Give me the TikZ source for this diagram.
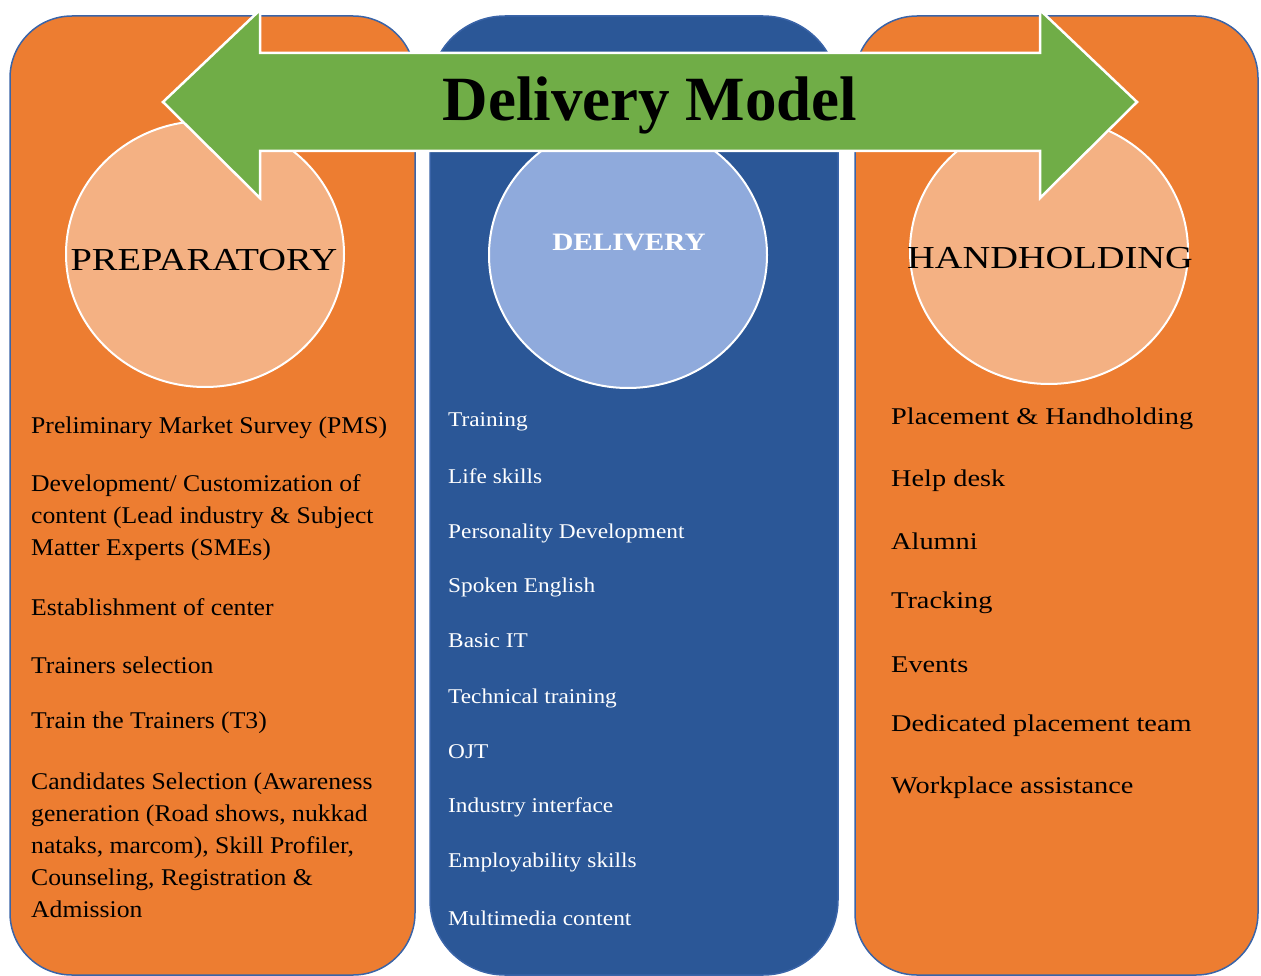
\documentclass[tikz,border=0pt]{standalone}
\usepackage{fontspec}
\setmainfont{Liberation Serif}
\newfontfamily\fL[FakeStretch=1.07]{Liberation Serif}
\newfontfamily\fR[FakeStretch=1.18]{Liberation Serif}
\newfontfamily\fM[FakeStretch=1.11]{Liberation Serif}
\newfontfamily\fP[FakeStretch=1.2]{Liberation Serif}
\newfontfamily\fD[FakeStretch=1.17]{Liberation Serif}
\usetikzlibrary{shapes.geometric}
\definecolor{orng}{HTML}{ED7D31}
\definecolor{lorng}{HTML}{F4B183}
\definecolor{dblue}{HTML}{2B5797}
\definecolor{lblue}{HTML}{8FAADC}
\definecolor{edgeblue}{HTML}{3A64A8}
\definecolor{grn}{HTML}{70AD47}
\tikzset{
  panel/.style={draw=edgeblue, line width=1.5pt, rounded corners=62pt, inner sep=0pt, minimum width=#1},
  bubble/.style={ellipse, draw=white, line width=2pt, minimum width=278pt, minimum height=266pt, inner sep=0pt},
  phase/.style={font=\fP\fontsize{32}{36}\selectfont, text=black},
  itemL/.style={anchor=west, inner sep=0pt, align=left, font=\fL\fontsize{24}{32}\selectfont, text=black},
  itemR/.style={anchor=west, inner sep=0pt, align=left, font=\fR\fontsize{24}{32}\selectfont, text=black},
  itemM/.style={anchor=west, inner sep=0pt, align=left, font=\fM\fontsize{21}{26}\selectfont, text=white},
}
\begin{document}
\begin{tikzpicture}[x=1pt,y=-1pt]
\useasboundingbox (0,0) rectangle (1261,976);
% panels
\node[panel=405pt, fill=orng, minimum height=959pt] (pL) at (212.5,495.5) {};
\node[panel=408pt, fill=dblue, minimum height=959pt, rounded corners=75pt] (pM) at (634,495.5) {};
\node[panel=403pt, fill=orng, minimum height=959pt] (pR) at (1056.5,495.5) {};
% circles
\node[bubble, fill=lorng] (cL) at (205,254) {};
\node[bubble, fill=lblue] (cM) at (628,255) {};
\node[bubble, fill=lorng] (cR) at (1049,251) {};
% double arrow
\draw[fill=grn, draw=white, line width=2.5pt, line join=miter]
  (163,102) -- (260,10) -- (260,53) -- (1040,53) -- (1040,10) -- (1137,102)
  -- (1040,198) -- (1040,151) -- (260,151) -- (260,198) -- cycle;
\node[font=\fontsize{63}{70}\selectfont\bfseries, inner sep=0pt] (title) at (650,105) {Delivery Model};
% phase labels
\node[phase] (lL) at (204,260) {PREPARATORY};
\node[font=\fD\fontsize{25}{28}\selectfont\bfseries, text=white] (lM) at (629,243) {DELIVERY};
\node[phase] (lR) at (1050,258) {HANDHOLDING};
% left items
\node[itemL] (a1) at (31,428) {Preliminary Market Survey (PMS)};
\node[itemL] (a2) at (31,518) {Development/ Customization of\\content (Lead industry \& Subject\\Matter Experts (SMEs)};
\node[itemL] (a3) at (31,607) {Establishment of center};
\node[itemL] (a4) at (31,665) {Trainers selection};
\node[itemL] (a5) at (31,723) {Train the Trainers (T3)};
\node[itemL] (a6) at (31,845) {Candidates Selection (Awareness\\generation (Road shows, nukkad\\nataks, marcom), Skill Profiler,\\Counseling, Registration \&\\Admission};
% middle items
\node[itemM] (b1) at (448,422) {Training};
\node[itemM] (b2) at (448,476) {Life skills};
\node[itemM] (b3) at (448,533) {Personality Development};
\node[itemM] (b4) at (448,587) {Spoken English};
\node[itemM] (b5) at (448,641) {Basic IT};
\node[itemM] (b6) at (448,698) {Technical training};
\node[itemM] (b7) at (448,752) {OJT};
\node[itemM] (b8) at (448,807) {Industry interface};
\node[itemM] (b9) at (448,862) {Employability skills};
\node[itemM] (b10) at (448,918) {Multimedia content};
% right items
\node[itemR] (c1) at (891,419) {Placement \& Handholding};
\node[itemR] (c2) at (891,481) {Help desk};
\node[itemR] (c3) at (891,541) {Alumni};
\node[itemR] (c4) at (891,603) {Tracking};
\node[itemR] (c5) at (891,665) {Events};
\node[itemR] (c6) at (891,726) {Dedicated placement team};
\node[itemR] (c7) at (891,788) {Workplace assistance};
\end{tikzpicture}
\end{document}
